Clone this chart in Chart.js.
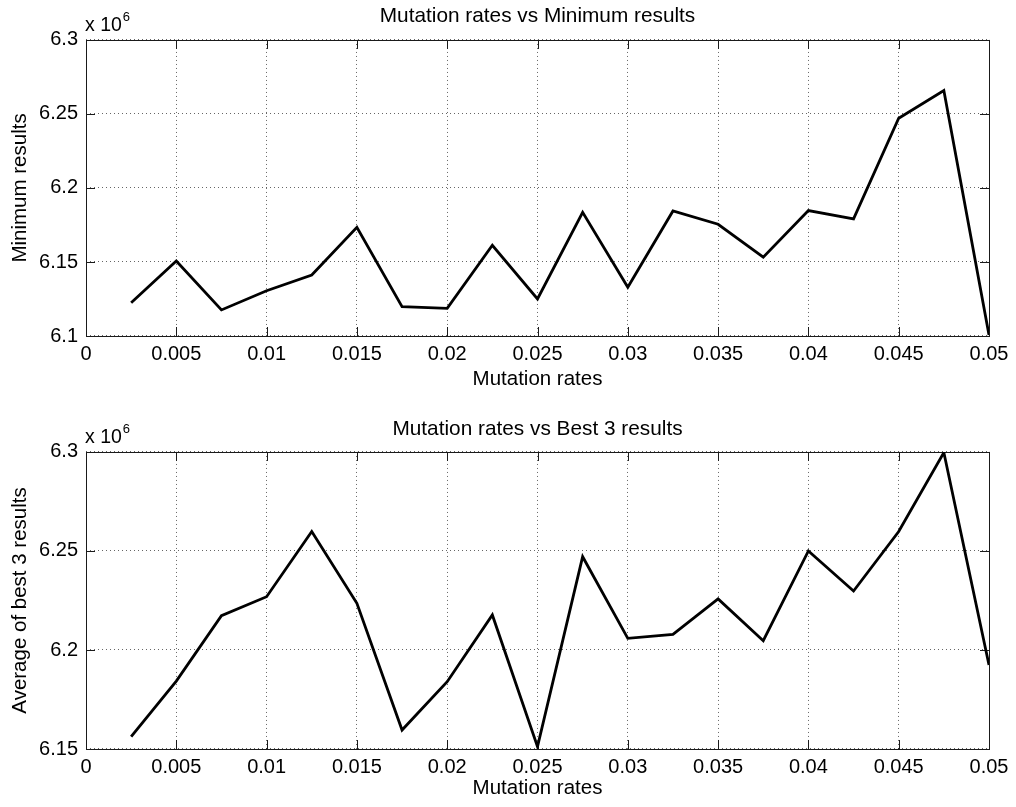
<!DOCTYPE html>
<html lang="en">
<head>
  <meta charset="UTF-8">
  <title>Mutation rates</title>
  <script src="https://cdn.jsdelivr.net/npm/chart.js"></script>
  <style>
    body { margin: 0; background: #ffffff; }
    #wrap { position: relative; width: 1016px; height: 807px; }
    #wrap canvas { position: absolute; left: 0; }
    #topChart { top: 0; }
    #bottomChart { top: 400px; }
  </style>
</head>
<body>
  <div id="wrap">
    <canvas id="topChart" width="1016" height="400"></canvas>
    <canvas id="bottomChart" width="1016" height="407"></canvas>
  </div>

  <script>
    const mutationRates = [0.0025, 0.005, 0.0075, 0.01, 0.0125, 0.015, 0.0175, 0.02, 0.0225, 0.025,
                           0.0275, 0.03, 0.0325, 0.035, 0.0375, 0.04, 0.0425, 0.045, 0.0475, 0.05];
    const minimumResults = [6122500, 6150700, 6117600, 6130600, 6141200, 6173400, 6119800, 6118700, 6161300, 6125000,
                            6183600, 6132900, 6184500, 6175500, 6153200, 6184700, 6179100, 6247100, 6265800, 6100700];
    const bestThreeAverage = [6156200, 6184300, 6217300, 6226900, 6259800, 6223600, 6159600, 6184000, 6217700, 6151200,
                              6247100, 6205900, 6207900, 6225800, 6204700, 6250000, 6229800, 6259800, 6299700, 6192400];
    const xRange = [0, 0.05];
    const xStep = 0.005;
    const topYRange = [6100000, 6300000];
    const bottomYRange = [6150000, 6300000];
    const yStep = 50000;

    const FONT = "'Liberation Sans', Arial, sans-serif";

    // box round the plot area, inward tick marks and the "x 10^6" note
    const axesBox = {
      id: 'axesBox',
      beforeDatasetsDraw(chart) {
        const { ctx, chartArea: a, scales } = chart;
        const len = 9;
        ctx.save();
        ctx.strokeStyle = '#1a1a1a';
        ctx.lineWidth = 1;
        ctx.beginPath();
        scales.x.ticks.forEach(t => {
          const px = Math.round(scales.x.getPixelForValue(t.value)) + 0.5;
          ctx.moveTo(px, a.bottom); ctx.lineTo(px, a.bottom - len);
          ctx.moveTo(px, a.top); ctx.lineTo(px, a.top + len);
        });
        scales.y.ticks.forEach(t => {
          const py = Math.round(scales.y.getPixelForValue(t.value)) + 0.5;
          ctx.moveTo(a.left, py); ctx.lineTo(a.left + len, py);
          ctx.moveTo(a.right, py); ctx.lineTo(a.right - len, py);
        });
        ctx.stroke();
        ctx.strokeRect(Math.round(a.left) + 0.5, Math.round(a.top) + 0.5,
                       Math.round(a.right - a.left), Math.round(a.bottom - a.top));

        ctx.fillStyle = '#000';
        ctx.textBaseline = 'alphabetic';
        ctx.textAlign = 'left';
        ctx.font = '19.5px ' + FONT;
        ctx.fillText('x 10', a.left - 1, a.top - 9);
        const w = ctx.measureText('x 10').width;
        ctx.font = '13px ' + FONT;
        ctx.fillText('6', a.left + w, a.top - 19);
        ctx.restore();
      }
    };

    const fmt = v => parseFloat(v.toFixed(4)).toString();

    function makeChart(id, title, yLabel, values, yRange, titlePad, xHeight, xTitlePad) {
      return new Chart(document.getElementById(id), {
        type: 'line',
        data: {
          datasets: [{
            data: mutationRates.map((r, i) => ({ x: r, y: values[i] })),
            borderColor: '#000000',
            borderWidth: 2.8,
            pointRadius: 0,
            tension: 0,
            fill: false
          }]
        },
        options: {
          responsive: false,
          animation: false,
          devicePixelRatio: 1,
          layout: { padding: { left: 0, right: 27, top: 0, bottom: 0 } },
          plugins: {
            legend: { display: false },
            tooltip: { enabled: false },
            title: {
              display: true,
              fullSize: false,
              text: title,
              color: '#000',
              font: { family: FONT, size: 20.8, weight: 'normal' },
              padding: titlePad
            }
          },
          scales: {
            x: {
              type: 'linear',
              min: xRange[0],
              max: xRange[1],
              afterFit: s => { s.height = xHeight; },
              ticks: {
                stepSize: xStep,
                color: '#000',
                padding: 6,
                maxRotation: 0,
                autoSkip: false,
                font: { family: FONT, size: 20 },
                callback: v => fmt(v)
              },
              grid: { color: 'rgba(0,0,0,0.6)', lineWidth: 1, drawTicks: false },
              border: { display: false, dash: [1, 3] },
              title: {
                display: true,
                text: 'Mutation rates',
                color: '#000',
                font: { family: FONT, size: 20.5 },
                padding: { top: 0, bottom: xTitlePad }
              }
            },
            y: {
              min: yRange[0],
              max: yRange[1],
              afterFit: s => { s.width = 86; },
              ticks: {
                stepSize: yStep,
                color: '#000',
                padding: 8,
                font: { family: FONT, size: 20 },
                callback: v => fmt(v / 1e6)
              },
              grid: { color: 'rgba(0,0,0,0.6)', lineWidth: 1, drawTicks: false },
              border: { display: false, dash: [1, 3] },
              title: {
                display: true,
                text: yLabel,
                color: '#000',
                font: { family: FONT, size: 20.5 },
                padding: { top: 7.7, bottom: 0 }
              }
            }
          }
        },
        plugins: [axesBox]
      });
    }

    makeChart('topChart', 'Mutation rates vs Minimum results', 'Minimum results',
              minimumResults, topYRange, { top: 3.3, bottom: 11.7 }, 64, 8.2);
    makeChart('bottomChart', 'Mutation rates vs Best 3 results', 'Average of best 3 results',
              bestThreeAverage, bottomYRange, { top: 17, bottom: 10 }, 58, 6.7);
  </script>
</body>
</html>
